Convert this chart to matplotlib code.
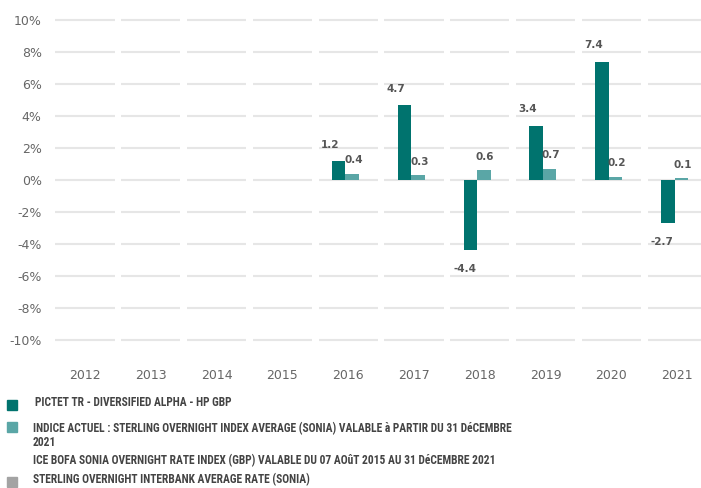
import matplotlib
matplotlib.use("Agg")
import matplotlib.pyplot as plt
import matplotlib.transforms as mtransforms
from matplotlib.patches import Rectangle, PathPatch
from matplotlib.textpath import TextPath
from matplotlib import font_manager
from matplotlib.font_manager import FontProperties

years = ["2012", "2013", "2014", "2015", "2016", "2017", "2018", "2019", "2020", "2021"]
fund = [None, None, None, None, 1.2, 4.7, -4.4, 3.4, 7.4, -2.7]
index = [None, None, None, None, 0.4, 0.3, 0.6, 0.7, 0.2, 0.1]
yticks = [10, 8, 6, 4, 2, 0, -2, -4, -6, -8, -10]
legend_labels = [
    ["PICTET TR - DIVERSIFIED ALPHA - HP GBP"],
    ["INDICE ACTUEL : STERLING OVERNIGHT INDEX AVERAGE (SONIA) VALABLE à PARTIR DU 31 DéCEMBRE",
     "2021",
     "ICE BOFA SONIA OVERNIGHT RATE INDEX (GBP) VALABLE DU 07 AOûT 2015 AU 31 DéCEMBRE 2021"],
    ["STERLING OVERNIGHT INTERBANK AVERAGE RATE (SONIA)"],
]
c_fund = "#00736E"
c_index = "#5AA6A6"
c_gray = "#A3A3A3"
colors = [c_fund, c_index, c_gray]

W, H = 701, 488
fig = plt.figure(figsize=(W / 100, H / 100), dpi=100)
left_px, right_px, top_px, bot_px = 50, 701, 20, 340
ax = fig.add_axes([left_px / W, 1 - bot_px / H, (right_px - left_px) / W, (bot_px - top_px) / H])
ax.set_xlim(-0.53, 9.36)
ax.set_ylim(-10, 10)

x = list(range(len(years)))
for i in x:
    ax.hlines(yticks, i - 0.45, i + 0.45, colors="#E6E6E6", linewidth=1.5, zorder=0, clip_on=False)

bw = 0.205
off_f, off_i = -0.145, 0.06
for i, (f, v) in enumerate(zip(fund, index)):
    if f is not None:
        ax.bar(i + off_f, f, width=bw, color=c_fund, zorder=2)
        if f >= 0:
            ax.annotate(f"{f:.1f}", (i + off_f, f), xytext=(-6, 8), textcoords="offset points",
                        ha="center", va="bottom", fontsize=7.5, fontweight="bold", color="#555555")
        else:
            ax.annotate(f"{f:.1f}", (i + off_f, f), xytext=(-4, -10), textcoords="offset points",
                        ha="center", va="top", fontsize=7.5, fontweight="bold", color="#555555")
    if v is not None:
        ax.bar(i + off_i, v, width=bw, color=c_index, zorder=2)
        ax.annotate(f"{v:.1f}", (i + off_i, v), xytext=(1, 6), textcoords="offset points",
                    ha="center", va="bottom", fontsize=7.5, fontweight="bold", color="#555555")

ax.set_xticks(x)
ax.set_xticklabels(years, fontsize=9, color="#666666")
ax.set_yticks(yticks)
ax.set_yticklabels([f"{t}%" for t in yticks], fontsize=9, color="#666666")
ax.tick_params(length=0)
ax.tick_params(axis="x", pad=21)
ax.tick_params(axis="y", pad=6)
for s in ax.spines.values():
    s.set_visible(False)

# legend
avail = {f.name for f in font_manager.fontManager.ttflist}
narrow = None
for cand in ["Liberation Sans Narrow", "DejaVu Sans Condensed", "Roboto Condensed", "Open Sans Condensed"]:
    if cand in avail:
        narrow = cand
        break
sq_y = [400, 422, 477]
line_y = [[403], [429, 442, 461], [480]]
txt_x = [35, 33, 33]
for k in range(3):
    fig.patches.append(Rectangle((7 / W, 1 - (sq_y[k] + 10) / H), 10 / W, 10 / H,
                                 transform=fig.transFigure, color=colors[k]))
    for line, yy in zip(legend_labels[k], line_y[k]):
        if narrow:
            fig.text(txt_x[k] / W, 1 - yy / H, line, ha="left", va="center",
                     fontsize=8.3, fontweight="bold", color="#444444", family=[narrow, "DejaVu Sans"])
        else:
            sx = 0.725
            fp = FontProperties(family="Liberation Sans", weight="bold", size=8.5)
            tp = TextPath((0, 0), line, prop=fp)
            s = 100 / 72
            tr = mtransforms.Affine2D().scale(s * sx, s).translate(txt_x[k], H - yy - 3.2 * s)
            fig.patches.append(PathPatch(tp, transform=tr, color="#444444", lw=0))

fig.savefig("out.png", dpi=100)
